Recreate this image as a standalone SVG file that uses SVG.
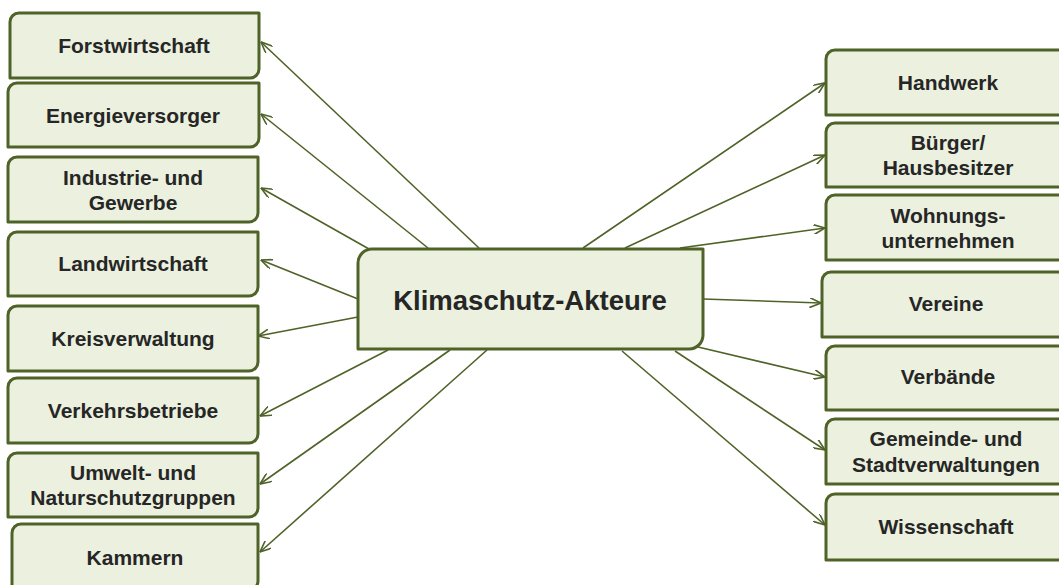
<svg xmlns="http://www.w3.org/2000/svg" width="1059" height="585" viewBox="0 0 1059 585">
<style>
.box{fill:#ebf1de;stroke:#4f6228;stroke-width:3;stroke-linejoin:round}
.t{font-family:"Liberation Sans",Arial,sans-serif;font-weight:bold;font-size:21px;fill:#262626;text-anchor:middle}
.tc{font-size:27.5px}
.c{stroke:#4f6228;stroke-width:1.6;fill:none;marker-end:url(#arr)}
</style>
<defs>
<marker id="arr" viewBox="0 0 12 10" refX="11.5" refY="5" markerWidth="12" markerHeight="10" markerUnits="userSpaceOnUse" orient="auto">
<path d="M0,0 L11.5,5 L0,10" fill="none" stroke="#4f6228" stroke-width="1.6"/>
</marker>
</defs>
<rect width="1059" height="585" fill="#ffffff"/>
<g id="connectors">
<line class="c" x1="479" y1="248" x2="261" y2="42"/>
<line class="c" x1="428" y1="248" x2="261" y2="114"/>
<line class="c" x1="369" y1="249" x2="261" y2="188"/>
<line class="c" x1="358" y1="299" x2="261" y2="260"/>
<line class="c" x1="358" y1="317" x2="258" y2="336"/>
<line class="c" x1="388" y1="350" x2="260" y2="416"/>
<line class="c" x1="450" y1="350" x2="260" y2="484"/>
<line class="c" x1="487" y1="350" x2="260" y2="552"/>
<line class="c" x1="583" y1="248" x2="825" y2="83"/>
<line class="c" x1="625" y1="248" x2="825" y2="155"/>
<line class="c" x1="680" y1="248" x2="825" y2="228"/>
<line class="c" x1="703" y1="299" x2="821" y2="303"/>
<line class="c" x1="698" y1="347" x2="825" y2="377"/>
<line class="c" x1="675" y1="351" x2="825" y2="450"/>
<line class="c" x1="622" y1="351" x2="825" y2="525"/>
</g>
<g id="center">
<path class="box" d="M358,263 A14,14 0 0 1 372,249 H703 V335 A14,14 0 0 1 689,349 H358 Z"/>
<text class="t tc" x="530" y="310">Klimaschutz-Akteure</text>
</g>
<g id="forstwirtschaft">
<path class="box" d="M10,22 A9,9 0 0 1 19,13 H259 V69 A9,9 0 0 1 250,78 H10 Z"/>
<text class="t" x="134" y="53">Forstwirtschaft</text>
</g>
<g id="energieversorger">
<path class="box" d="M8,92 A9,9 0 0 1 17,83 H259 V138 A9,9 0 0 1 250,147 H8 Z"/>
<text class="t" x="133" y="122.5">Energieversorger</text>
</g>
<g id="industrie">
<path class="box" d="M8,166 A9,9 0 0 1 17,157 H258 V213 A9,9 0 0 1 249,222 H8 Z"/>
<text class="t" x="133" y="184.5">Industrie- und</text>
<text class="t" x="133" y="209.5">Gewerbe</text>
</g>
<g id="landwirtschaft">
<path class="box" d="M8,241 A9,9 0 0 1 17,232 H258 V287 A9,9 0 0 1 249,296 H8 Z"/>
<text class="t" x="133" y="271">Landwirtschaft</text>
</g>
<g id="kreisverwaltung">
<path class="box" d="M8,315 A9,9 0 0 1 17,306 H258 V362 A9,9 0 0 1 249,371 H8 Z"/>
<text class="t" x="133" y="346">Kreisverwaltung</text>
</g>
<g id="verkehrsbetriebe">
<path class="box" d="M8,387 A9,9 0 0 1 17,378 H258 V434 A9,9 0 0 1 249,443 H8 Z"/>
<text class="t" x="133" y="418">Verkehrsbetriebe</text>
</g>
<g id="umwelt">
<path class="box" d="M8,462 A9,9 0 0 1 17,453 H258 V508 A9,9 0 0 1 249,517 H8 Z"/>
<text class="t" x="133" y="480">Umwelt- und</text>
<text class="t" x="133" y="505">Naturschutzgruppen</text>
</g>
<g id="kammern">
<path class="box" d="M12,533 A9,9 0 0 1 21,524 H258 V581 A9,9 0 0 1 249,590 H12 Z"/>
<text class="t" x="135" y="565">Kammern</text>
</g>
<g id="handwerk">
<path class="box" d="M826,59 A9,9 0 0 1 835,50 H1072 V106 A9,9 0 0 1 1063,115 H826 Z"/>
<text class="t" x="948" y="90">Handwerk</text>
</g>
<g id="buerger">
<path class="box" d="M826,132 A9,9 0 0 1 835,123 H1072 V178 A9,9 0 0 1 1063,187 H826 Z"/>
<text class="t" x="948" y="150">Bürger/</text>
<text class="t" x="948" y="175">Hausbesitzer</text>
</g>
<g id="wohnungsunternehmen">
<path class="box" d="M826,204 A9,9 0 0 1 835,195 H1072 V251 A9,9 0 0 1 1063,260 H826 Z"/>
<text class="t" x="948" y="223">Wohnungs-</text>
<text class="t" x="948" y="248">unternehmen</text>
</g>
<g id="vereine">
<path class="box" d="M822,281 A9,9 0 0 1 831,272 H1072 V328 A9,9 0 0 1 1063,337 H822 Z"/>
<text class="t" x="946" y="311">Vereine</text>
</g>
<g id="verbaende">
<path class="box" d="M826,355 A9,9 0 0 1 835,346 H1072 V401 A9,9 0 0 1 1063,410 H826 Z"/>
<text class="t" x="948" y="384">Verbände</text>
</g>
<g id="gemeinde">
<path class="box" d="M826,428 A9,9 0 0 1 835,419 H1072 V475 A9,9 0 0 1 1063,484 H826 Z"/>
<text class="t" x="946" y="446">Gemeinde- und</text>
<text class="t" x="946" y="471.5">Stadtverwaltungen</text>
</g>
<g id="wissenschaft">
<path class="box" d="M826,503 A9,9 0 0 1 835,494 H1072 V551 A9,9 0 0 1 1063,560 H826 Z"/>
<text class="t" x="946" y="534">Wissenschaft</text>
</g>
</svg>
